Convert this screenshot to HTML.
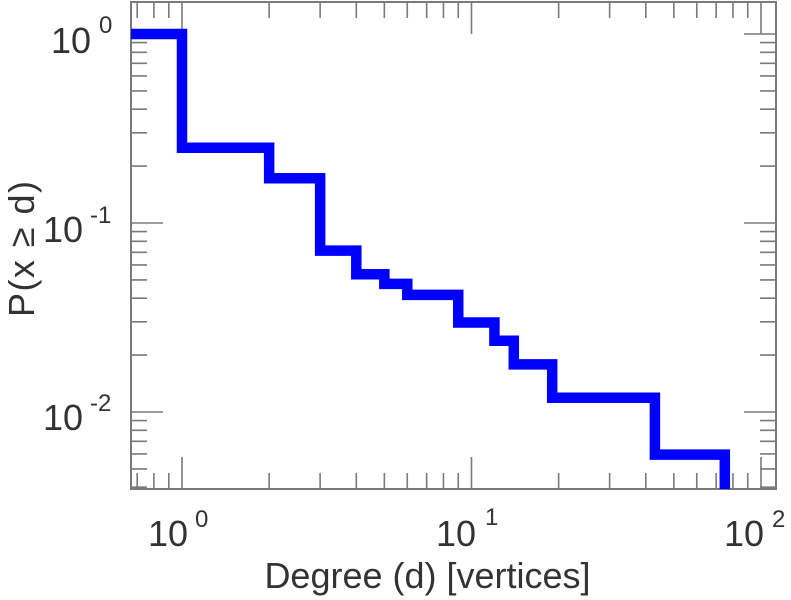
<!DOCTYPE html>
<html><head><meta charset="utf-8"><style>
html,body{margin:0;padding:0;background:#fff;}
svg{display:block;}
text{font-family:"Liberation Sans",Arial,sans-serif;fill:#333;}
</style></head><body>
<svg width="791" height="600" viewBox="0 0 791 600" xmlns="http://www.w3.org/2000/svg">
<defs><clipPath id="c"><rect x="131" y="2" width="645" height="487"/></clipPath></defs>
<rect width="791" height="600" fill="#fff"/>
<g stroke="#7a7a7a" stroke-width="1.6" fill="none">
<!-- x major ticks bottom/top -->
<path d="M182,489V457 M471.5,489V457 M761,489V457 M182,2V34 M471.5,2V34 M761,2V34"/>
<!-- x minor ticks -->
<path d="M137.2,489V473 M153.9,489V473 M168.8,489V473 M269.15,489V473 M320.13,489V473 M356.3,489V473 M384.35,489V473 M407.27,489V473 M426.65,489V473 M443.45,489V473 M458.25,489V473 M558.65,489V473 M609.63,489V473 M645.8,489V473 M673.85,489V473 M696.77,489V473 M716.15,489V473 M732.95,489V473 M747.75,489V473
M137.2,2V18 M153.9,2V18 M168.8,2V18 M269.15,2V18 M320.13,2V18 M356.3,2V18 M384.35,2V18 M407.27,2V18 M426.65,2V18 M443.45,2V18 M458.25,2V18 M558.65,2V18 M609.63,2V18 M645.8,2V18 M673.85,2V18 M696.77,2V18 M716.15,2V18 M732.95,2V18 M747.75,2V18"/>
<!-- y major ticks -->
<path d="M131,34H163 M131,223H163 M131,412H163 M776,34H744 M776,223H744 M776,412H744"/>
<!-- y minor ticks -->
<path d="M131,42.6H147 M131,52.3H147 M131,63.3H147 M131,75.9H147 M131,90.9H147 M131,109.2H147 M131,132.8H147 M131,166.1H147
M131,231.6H147 M131,241.3H147 M131,252.3H147 M131,264.9H147 M131,279.9H147 M131,298.2H147 M131,321.8H147 M131,355.1H147
M131,420.6H147 M131,430.3H147 M131,441.3H147 M131,453.9H147 M131,468.9H147 M131,487.2H147
M776,42.6H760 M776,52.3H760 M776,63.3H760 M776,75.9H760 M776,90.9H760 M776,109.2H760 M776,132.8H760 M776,166.1H760
M776,231.6H760 M776,241.3H760 M776,252.3H760 M776,264.9H760 M776,279.9H760 M776,298.2H760 M776,321.8H760 M776,355.1H760
M776,420.6H760 M776,430.3H760 M776,441.3H760 M776,453.9H760 M776,468.9H760 M776,487.2H760"/>
<rect x="131" y="2" width="645" height="487" stroke-width="2"/>
</g>
<g clip-path="url(#c)">
<path d="M131,34 H182 V147.79 H269.15 V178.19 H320.13 V250.62 H356.3 V274.23 H384.35 V283.9 H407.27 V294.86 H458.25 V322.48 H494.42 V340.79 H513.8 V364.41 H552.19 V397.69 H654.9 V454.58 H724.8 V520" fill="none" stroke="#0000ff" stroke-width="10.5" stroke-linejoin="miter" stroke-miterlimit="10"/>
</g>
<!-- y tick labels -->
<g font-size="36">
<text x="51" y="53">10</text>
<text x="43" y="242">10</text>
<text x="43" y="430">10</text>
<text x="148" y="546">10</text>
<text x="436" y="546">10</text>
<text x="724" y="546">10</text>
</g>
<g font-size="24">
<text x="99" y="33">0</text>
<text x="90" y="223">-1</text>
<text x="90" y="411">-2</text>
<text x="195" y="527">0</text>
<text x="485" y="525">1</text>
<text x="772" y="527">2</text>
</g>
<text x="427.5" y="588" font-size="36" text-anchor="middle">Degree (d) [vertices]</text>
<text transform="translate(34,249) rotate(-90)" font-size="36" text-anchor="middle" textLength="136" lengthAdjust="spacing">P(x ≥ d)</text>
</svg>
</body></html>
